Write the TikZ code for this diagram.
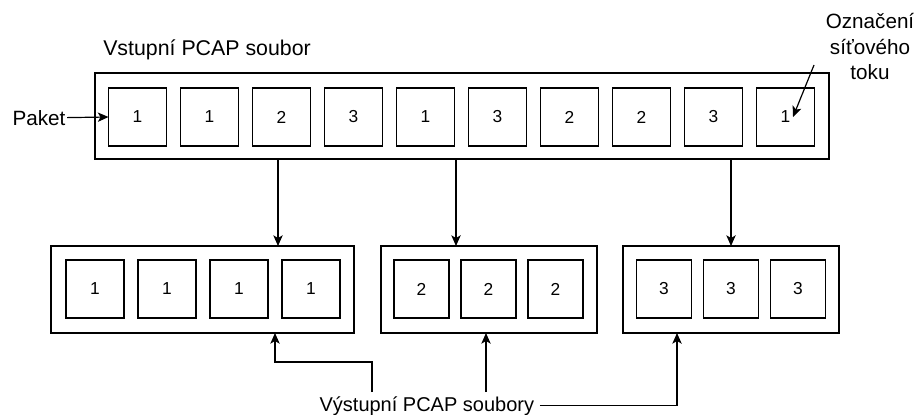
\documentclass[tikz,border=0pt]{standalone}
\usepackage{fontspec}
\setmainfont{Liberation Sans}
\usetikzlibrary{arrows.meta}
\tikzset{
  pkt/.style={draw, line width=0.9pt, minimum width=43.5pt, minimum height=43.5pt, inner sep=0pt, outer sep=0pt, font=\fontsize{13}{15}\selectfont},
  pktn/.style={pkt, minimum width=41.25pt},
  outer/.style={draw, line width=0.9pt, inner sep=0pt, outer sep=0pt},
  lbl/.style={font=\fontsize{15.5}{19}\selectfont, inner sep=0pt},
  conn/.style={line width=0.9pt, -{Stealth[length=8pt, width=7pt, inset=2pt]}}
}
\begin{document}
\begin{tikzpicture}[x=0.75pt, y=-0.75pt]
\useasboundingbox (0,0) rectangle (920,414);
% input file
\node[outer, minimum width=550.5pt, minimum height=64.5pt] (in) at (462,116) {};
\foreach \v [count=\i from 0] in {1,1,2,3,1,3,2,2,3,1} {
  \node[pkt] (t\i) at ({137.5+72*\i},117) {\v};
}
\node[lbl, anchor=base west, font=\fontsize{16}{19}\selectfont] (vst) at (103,55) {Vstupní PCAP soubor};
\node[lbl, anchor=base west, inner xsep=1pt] (paket) at (11,125) {Paket};
\draw[conn] (paket.east) -- (t0.west);
\node[lbl, align=center, anchor=south] (oz) at (870,80) {Označení\\síťového\\toku};
\coordinate (ozs) at (814,65);
\coordinate (oze) at (793,117);
\draw[conn] (ozs) -- (oze);
% output files
\node[outer, minimum width=227.25pt, minimum height=65.25pt] (b1) at (202.5,289.5) {};
\foreach \i in {0,1,2,3} {
  \node[pkt] (u\i) at ({95+72*\i},289) {1};
}
\node[outer, minimum width=162pt, minimum height=65.25pt] (b2) at (489,289.5) {};
\foreach \i in {0,1,2} {
  \node[pktn] (v\i) at ({421.5+67*\i},289) {2};
}
\node[outer, minimum width=162pt, minimum height=65.25pt] (b3) at (731,289.5) {};
\foreach \i in {0,1,2} {
  \node[pktn] (w\i) at ({664+67*\i},289) {3};
}
% split arrows
\coordinate (d1) at (278,0);
\coordinate (d2) at (456,0);
\coordinate (d3) at (731,0);
\draw[conn] (in.south -| d1) -- (b1.north -| d1);
\draw[conn] (in.south -| d2) -- (b2.north -| d2);
\draw[conn] (in.south -| d3) -- (b3.north -| d3);
% output label
\node[lbl, anchor=base west, inner xsep=4pt, inner ysep=3pt, font=\fontsize{15}{18}\selectfont] (out) at (314,411) {Výstupní PCAP soubory};
\coordinate (k1) at (372,362);
\coordinate (k2) at (275,362);
\coordinate (k3) at (486,0);
\coordinate (k4) at (677,0);
\draw[conn] (out.north -| k1) -- (k1) -- (k2) -- (b1.south -| k2);
\draw[conn] (out.north -| k3) -- (b2.south -| k3);
\draw[conn] (out.east) -| (b3.south -| k4);
\end{tikzpicture}
\end{document}
